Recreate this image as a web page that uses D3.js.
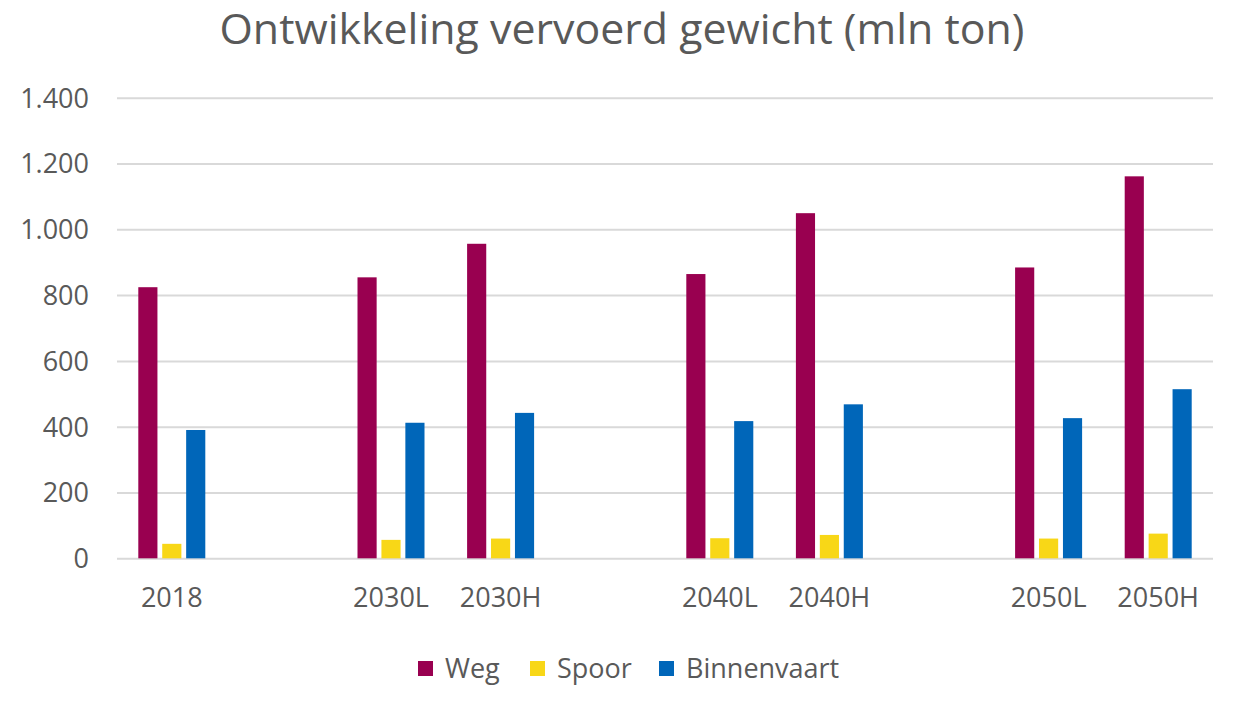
<!DOCTYPE html>
<html><head><meta charset="utf-8">
<script src="https://cdn.jsdelivr.net/npm/d3@7"></script>
<style>body{margin:0;background:#fff}svg{display:block}text{font-family:"Open Sans",sans-serif;fill:#595959}</style>
</head><body><svg id="c" width="1247" height="705"></svg>
<script>
const categories = ["2018","", "2030L","2030H"," ","2040L","2040H","  ","2050L","2050H"];
const seriesNames = ["Weg","Spoor","Binnenvaart"];
const weg = [824,null,854,956,null,864,1049,null,884,1161];
const spoor = [44,null,56,60,null,61,71,null,60,75];
const binnenvaart = [390,null,412,442,null,417,468,null,426,514];
const yTicks = [0,200,400,600,800,1000,1200,1400];
const colors = ["#990050","#F8D717","#0066B9"];
const title = "Ontwikkeling vervoerd gewicht (mln ton)";

const svg = d3.select("#c");
const m = {l:117, r:1213, t:97.7, b:558.3};
const x = d3.scaleBand().domain(categories).range([m.l,m.r]).padding(0);
const y = d3.scaleLinear().domain([0,1400]).range([m.b,m.t]);
const groupW = 67;
const x1 = d3.scaleBand().domain(seriesNames).range([0,groupW]).paddingInner(0.2);
const series = [weg,spoor,binnenvaart];

svg.append("text").attr("x",622).attr("y",44).attr("text-anchor","middle")
  .style("font-size","42px").attr("textLength",805).attr("lengthAdjust","spacingAndGlyphs").text(title);

const yAxis = svg.append("g").attr("transform",`translate(${m.l},0)`)
  .call(d3.axisLeft(y).tickValues(yTicks).tickSize(-(m.r-m.l)).tickPadding(28)
    .tickFormat(d=>d3.format(",")(d).replace(/,/g,".")));
yAxis.select(".domain").remove();
yAxis.selectAll("line").attr("stroke","#d9d9d9").attr("stroke-width",2);
yAxis.selectAll("text").style("font-size","27px").attr("fill","#595959").attr("dy","0.35em");

const xAxis = svg.append("g").attr("transform",`translate(0,${m.b})`)
  .call(d3.axisBottom(x).tickSize(0).tickPadding(30));
xAxis.select(".domain").remove();
xAxis.selectAll("text").style("font-size","27px").attr("fill","#595959").attr("dy","0.71em");

series.forEach((vals,si)=>{
  svg.append("g").selectAll("rect").data(categories.map((c,i)=>({c,v:vals[i]})).filter(d=>d.v!=null))
    .join("rect")
    .attr("x",d=>x(d.c)+(x.bandwidth()-groupW)/2+x1(seriesNames[si]))
    .attr("width",x1.bandwidth())
    .attr("y",d=>y(d.v)).attr("height",d=>y(0)-y(d.v))
    .attr("fill",colors[si]);
});

const legX = [418,530,659];
const lg = svg.append("g");
seriesNames.forEach((s,i)=>{
  lg.append("rect").attr("x",legX[i]).attr("y",661).attr("width",15).attr("height",15).attr("fill",colors[i]);
  lg.append("text").attr("x",legX[i]+27).attr("y",678).style("font-size","27px").text(s);
});
</script></body></html>
